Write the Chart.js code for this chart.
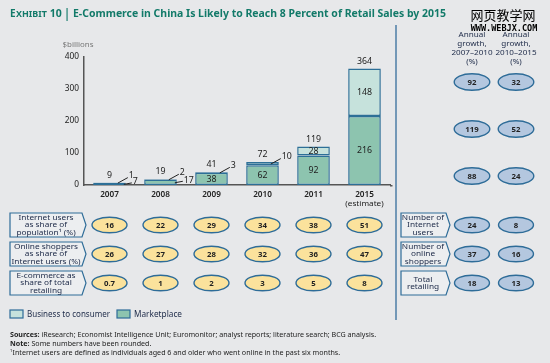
<!DOCTYPE html>
<html>
<head>
<meta charset="utf-8">
<script src="https://cdn.jsdelivr.net/npm/chart.js@4.4.1/dist/chart.umd.min.js"></script>
<style>
  html, body { margin: 0; padding: 0; background: #e7e8ea; }
  #wrap { width: 550px; height: 363px; position: relative; }
  canvas { display: block; }
</style>
</head>
<body>
<div id="wrap"><canvas id="c" width="550" height="363"></canvas></div>
<script>
// ---------------- data ----------------
const years = ['2007', '2008', '2009', '2010', '2011', ['2015', '(estimate)']];
const marketplace = [7, 17, 38, 62, 92, 216];
const businessToConsumer = [1, 2, 3, 10, 28, 148];
const totals = [9, 19, 41, 72, 119, 364];
const yTicks = [0, 100, 200, 300, 400];

const internetUsersShare = [16, 22, 29, 34, 38, 51];
const onlineShoppersShare = [26, 27, 28, 32, 36, 47];
const ecommerceShare = [0.7, 1, 2, 3, 5, 8];

// growth columns: rows = total, B2C, marketplace, internet users, online shoppers, total retailing
const growth2007to2010 = [92, 119, 88, 24, 37, 18];
const growth2010to2015 = [32, 52, 24, 8, 16, 13];

const rowLabelsLeft = [
  ['Internet users', 'as share of', 'population\u00B9 (%)'],
  ['Online shoppers', 'as share of', 'Internet users (%)'],
  ['E-commerce as', 'share of total', 'retailing']
];
const rowLabelsRight = [
  ['Number of', 'Internet', 'users'],
  ['Number of', 'online', 'shoppers'],
  ['Total', 'retailing']
];
const growthHeaders = [
  ['Annual', 'growth,', '2007\u20132010', '(%)'],
  ['Annual', 'growth,', '2010\u20132015', '(%)']
];

// ---------------- styles ----------------
const FONT = '"Noto Sans", "Open Sans", sans-serif';
const BG = '#e7e8ea';
const MKT_FILL = '#8dc4af';
const B2C_FILL = '#c6e2dc';
const BAR_EDGE = '#2d6f97';
const YELLOW = '#fbe29c';
const BLUE = '#b4c7df';
const OUTLINE = '#2e6c98';
const TEAL = '#127a69';
const DARK = '#222';
const NAVY = '#1d2a48';

// draw text horizontally stretched so that it covers a given width
function fitText(ctx, text, x, y, weight, size, target, align) {
  ctx.save();
  ctx.font = weight + ' ' + size + 'px ' + FONT;
  const w = ctx.measureText(text).width;
  const k = target / w;
  let x0 = x;
  if (align === 'center') x0 = x - target / 2;
  ctx.textAlign = 'left';
  ctx.translate(x0, y);
  ctx.scale(k, 1);
  ctx.fillText(text, 0, 0);
  ctx.restore();
}
// wider text via fixed horizontal stretch factor
function wideText(ctx, text, x, y, weight, size, k, align) {
  ctx.save();
  ctx.font = weight + ' ' + size + 'px ' + FONT;
  ctx.textAlign = align || 'left';
  ctx.translate(x, y);
  ctx.scale(k, 1);
  ctx.fillText(text, 0, 0);
  ctx.restore();
}

function ellipse(ctx, cx, cy, rx, ry, fill, text) {
  ctx.save();
  ctx.beginPath();
  ctx.ellipse(cx, cy, rx, ry, 0, 0, Math.PI * 2);
  ctx.fillStyle = fill;
  ctx.fill();
  ctx.lineWidth = 1.4;
  ctx.strokeStyle = OUTLINE;
  ctx.stroke();
  ctx.fillStyle = DARK;
  ctx.textBaseline = 'middle';
  wideText(ctx, String(text), cx, cy + 0.5, 'bold', 7.8, 1.0, 'center');
  ctx.restore();
}

function arrowBox(ctx, x, y, w, h, lines, tx) {
  const tip = 4;
  ctx.save();
  ctx.beginPath();
  ctx.moveTo(x, y);
  ctx.lineTo(x + w - tip, y);
  ctx.lineTo(x + w, y + h / 2);
  ctx.lineTo(x + w - tip, y + h);
  ctx.lineTo(x, y + h);
  ctx.closePath();
  ctx.fillStyle = '#eceef0';
  ctx.fill();
  ctx.lineWidth = 1.2;
  ctx.strokeStyle = OUTLINE;
  ctx.stroke();
  ctx.fillStyle = NAVY;
  ctx.textBaseline = 'middle';
  const lh = 7.6;
  const y0 = y + h / 2 - (lines.length - 1) * lh / 2;
  lines.forEach((l, i) => wideText(ctx, l, tx, y0 + i * lh + 0.3, 'normal', 7.4, 1.12, 'center'));
  ctx.restore();
}

const decorPlugin = {
  id: 'decor',
  beforeDraw(chart) {
    const ctx = chart.ctx;
    ctx.save();
    ctx.fillStyle = BG;
    ctx.fillRect(0, 0, chart.width, chart.height);
    ctx.restore();
  },
  afterDraw(chart) {
    const ctx = chart.ctx;
    const xs = chart.scales.x;
    const ys = chart.scales.y;
    const meta0 = chart.getDatasetMeta(0);
    ctx.save();

    // title
    ctx.textBaseline = 'middle';
    ctx.textAlign = 'left';
    ctx.fillStyle = TEAL;
    let tx = 10;
    ctx.font = 'bold 10px ' + FONT;
    ctx.fillText('E', tx, 14.5); tx += ctx.measureText('E').width + 0.3;
    ctx.font = 'bold 8px ' + FONT;
    wideText(ctx, 'XHIBIT', tx, 15, 'bold', 8, 1.12);
    tx += ctx.measureText('XHIBIT').width * 1.12 + 3;
    wideText(ctx, '10', tx, 14.5, 'bold', 10, 1.05);
    ctx.fillRect(66.5, 8, 1.1, 13);
    const ttl = 'E-Commerce in China Is Likely to Reach 8 Percent of Retail Sales by 2015';
    fitText(ctx, ttl, 73, 14.5, 'bold', 10.2, 373);

    // watermark
    ctx.fillStyle = '#000';
    ctx.textAlign = 'center';
    ctx.font = '13px "Noto Sans CJK SC"';
    ctx.fillText('网页教学网', 503, 15);
    ctx.font = 'bold 8.5px "DejaVu Sans Mono"';
    ctx.fillText('WWW.WEBJX.COM', 504, 29);

    // $billions
    ctx.fillStyle = '#777';
    fitText(ctx, '$billions', 62.5, 45, 'normal', 7.2, 31);

    // second line of multi-line category labels (normal weight)
    ctx.fillStyle = DARK;
    years.forEach((lab, i) => {
      if (Array.isArray(lab)) {
        for (let k = 1; k < lab.length; k++) {
          wideText(ctx, lab[k], xs.getPixelForValue(i), 194.5 + k * 9.5, 'normal', 7.8, 1.05, 'center');
        }
      }
    });

    // bar value labels
    ctx.font = '8px ' + FONT;
    ctx.fillStyle = DARK;
    ctx.strokeStyle = '#222';
    ctx.lineWidth = 1;
    for (let i = 0; i < years.length; i++) {
      const bar0 = meta0.data[i];
      const cx = bar0.x;
      const half = bar0.width / 2;
      const right = cx + half;
      const base = ys.getPixelForValue(0);
      const mTop = ys.getPixelForValue(marketplace[i]);
      const bTop = ys.getPixelForValue(marketplace[i] + businessToConsumer[i]);
      // total
      wideText(ctx, String(totals[i]), cx, bTop - 7, 'normal', 8, 1.1, 'center');
      // marketplace segment
      if (base - mTop >= 8) {
        wideText(ctx, String(marketplace[i]), cx, (base + mTop) / 2 + 0.5, 'normal', 8, 1.1, 'center');
      } else {
        const my = (base + mTop) / 2;
        ctx.beginPath();
        ctx.moveTo(right - 2, my + 0.5);
        ctx.lineTo(right + 6, my - 1);
        ctx.stroke();
        wideText(ctx, String(marketplace[i]), right + 7, my - 2, 'normal', 8, 1.1, 'left');
      }
      // B2C segment
      if (mTop - bTop >= 8) {
        wideText(ctx, String(businessToConsumer[i]), cx, (mTop + bTop) / 2 + 0.5, 'normal', 8, 1.1, 'center');
      } else {
        const by = (mTop + bTop) / 2;
        ctx.beginPath();
        ctx.moveTo(right - 8, by + 0.5);
        ctx.lineTo(right + 2, by - 5);
        ctx.stroke();
        wideText(ctx, String(businessToConsumer[i]), right + 3, by - 7, 'normal', 8, 1.1, 'left');
      }
    }

    // x axis line continues slightly past the last bar slot
    ctx.strokeStyle = '#555';
    ctx.lineWidth = 1.5;
    ctx.beginPath();
    ctx.moveTo(xs.right, ys.bottom + 0.75);
    ctx.lineTo(xs.right + 2.5, ys.bottom + 0.75);
    ctx.stroke();

    // vertical separator
    ctx.strokeStyle = '#4d7ea6';
    ctx.lineWidth = 1.5;
    ctx.beginPath();
    ctx.moveTo(396, 25);
    ctx.lineTo(396, 320);
    ctx.stroke();

    // growth headers
    const gx = [472, 516];
    ctx.fillStyle = NAVY;
    growthHeaders.forEach((lines, c) => {
      lines.forEach((l, k) => wideText(ctx, l, gx[c], 35 + k * 9, 'normal', 7.5, 1.08, 'center'));
    });

    // top-right growth ellipses
    const gy = [82, 129, 176];
    for (let r = 0; r < 3; r++) {
      ellipse(ctx, gx[0], gy[r], 17.8, 8.3, BLUE, growth2007to2010[r]);
      ellipse(ctx, gx[1], gy[r], 17.8, 8.3, BLUE, growth2010to2015[r]);
    }

    // bottom rows
    const rowY = [213, 242, 271];
    const rowH = 24;
    const rowData = [internetUsersShare, onlineShoppersShare, ecommerceShare];
    for (let r = 0; r < 3; r++) {
      arrowBox(ctx, 10, rowY[r], 76, rowH, rowLabelsLeft[r], 46);
      arrowBox(ctx, 401, rowY[r], 49, rowH, rowLabelsRight[r], 423);
      const cy = rowY[r] + rowH / 2;
      for (let i = 0; i < years.length; i++) {
        ellipse(ctx, xs.getPixelForValue(i), cy, 17.5, 7.8, YELLOW, rowData[r][i]);
      }
      ellipse(ctx, gx[0], cy, 17.5, 7.8, BLUE, growth2007to2010[r + 3]);
      ellipse(ctx, gx[1], cy, 17.5, 7.8, BLUE, growth2010to2015[r + 3]);
    }

    // legend
    const legend = [
      { label: chart.data.datasets[1].label, fill: B2C_FILL, x: 10, w: 83 },
      { label: chart.data.datasets[0].label, fill: MKT_FILL, x: 117, w: 48 }
    ];
    legend.forEach(it => {
      ctx.fillStyle = it.fill;
      ctx.fillRect(it.x, 310, 13, 8);
      ctx.strokeStyle = OUTLINE;
      ctx.lineWidth = 1.2;
      ctx.strokeRect(it.x, 310, 13, 8);
      ctx.fillStyle = NAVY;
      fitText(ctx, it.label, it.x + 17, 314.5, 'normal', 8.3, it.w);
    });

    // footnotes
    ctx.fillStyle = '#222';
    const K = 1.08;
    const srcRest = 'iResearch; Economist Intelligence Unit; Euromonitor; analyst reports; literature search; BCG analysis.';
    ctx.font = 'bold 6.6px ' + FONT;
    let fx = 10;
    wideText(ctx, 'Sources:', fx, 335, 'bold', 6.6, K);
    fx += ctx.measureText('Sources: ').width * K;
    wideText(ctx, srcRest, fx, 335, 'normal', 6.6, K);
    fx = 10;
    ctx.font = 'bold 6.6px ' + FONT;
    wideText(ctx, 'Note:', fx, 344, 'bold', 6.6, K);
    fx += ctx.measureText('Note: ').width * K;
    wideText(ctx, 'Some numbers have been rounded.', fx, 344, 'normal', 6.6, K);
    wideText(ctx, '1', 10, 351, 'normal', 4.3, 1);
    wideText(ctx, 'Internet users are defined as individuals aged 6 and older who went online in the past six months.', 12.5, 353, 'normal', 6.6, K);

    ctx.restore();
  }
};

new Chart(document.getElementById('c'), {
  type: 'bar',
  data: {
    labels: years,
    datasets: [
      {
        label: 'Marketplace',
        data: marketplace,
        backgroundColor: MKT_FILL,
        borderColor: BAR_EDGE,
        borderWidth: 1.5,
        borderSkipped: false
      },
      {
        label: 'Business to consumer',
        data: businessToConsumer,
        backgroundColor: B2C_FILL,
        borderColor: BAR_EDGE,
        borderWidth: 1.5,
        borderSkipped: false
      }
    ]
  },
  options: {
    responsive: false,
    animation: false,
    devicePixelRatio: 1,
    layout: { padding: { left: 60, right: 160, top: 57, bottom: 153 } },
    plugins: { legend: { display: false }, tooltip: { enabled: false } },
    datasets: { bar: { categoryPercentage: 1, barPercentage: 0.64 } },
    scales: {
      x: {
        stacked: true,
        grid: { display: false, drawTicks: false },
        border: { display: true, color: '#555', width: 1.5 },
        ticks: {
          color: DARK,
          font: { family: FONT, size: 8.2, weight: '600' },
          padding: 5,
          maxRotation: 0,
          autoSkip: false,
          callback(value, index) {
            const lab = years[index];
            return Array.isArray(lab) ? lab[0] : lab;
          }
        },
        afterFit(s) { s.height = 25; }
      },
      y: {
        stacked: true,
        min: 0,
        max: 400,
        afterBuildTicks(s) { s.ticks = yTicks.map(v => ({ value: v })); },
        grid: { display: false, drawTicks: false },
        border: { display: true, color: '#555', width: 1.5 },
        ticks: { color: DARK, font: { family: FONT, size: 8.3 }, padding: 5 },
        afterFit(s) { s.width = 24; }
      }
    }
  },
  plugins: [decorPlugin]
});
</script>
</body>
</html>
